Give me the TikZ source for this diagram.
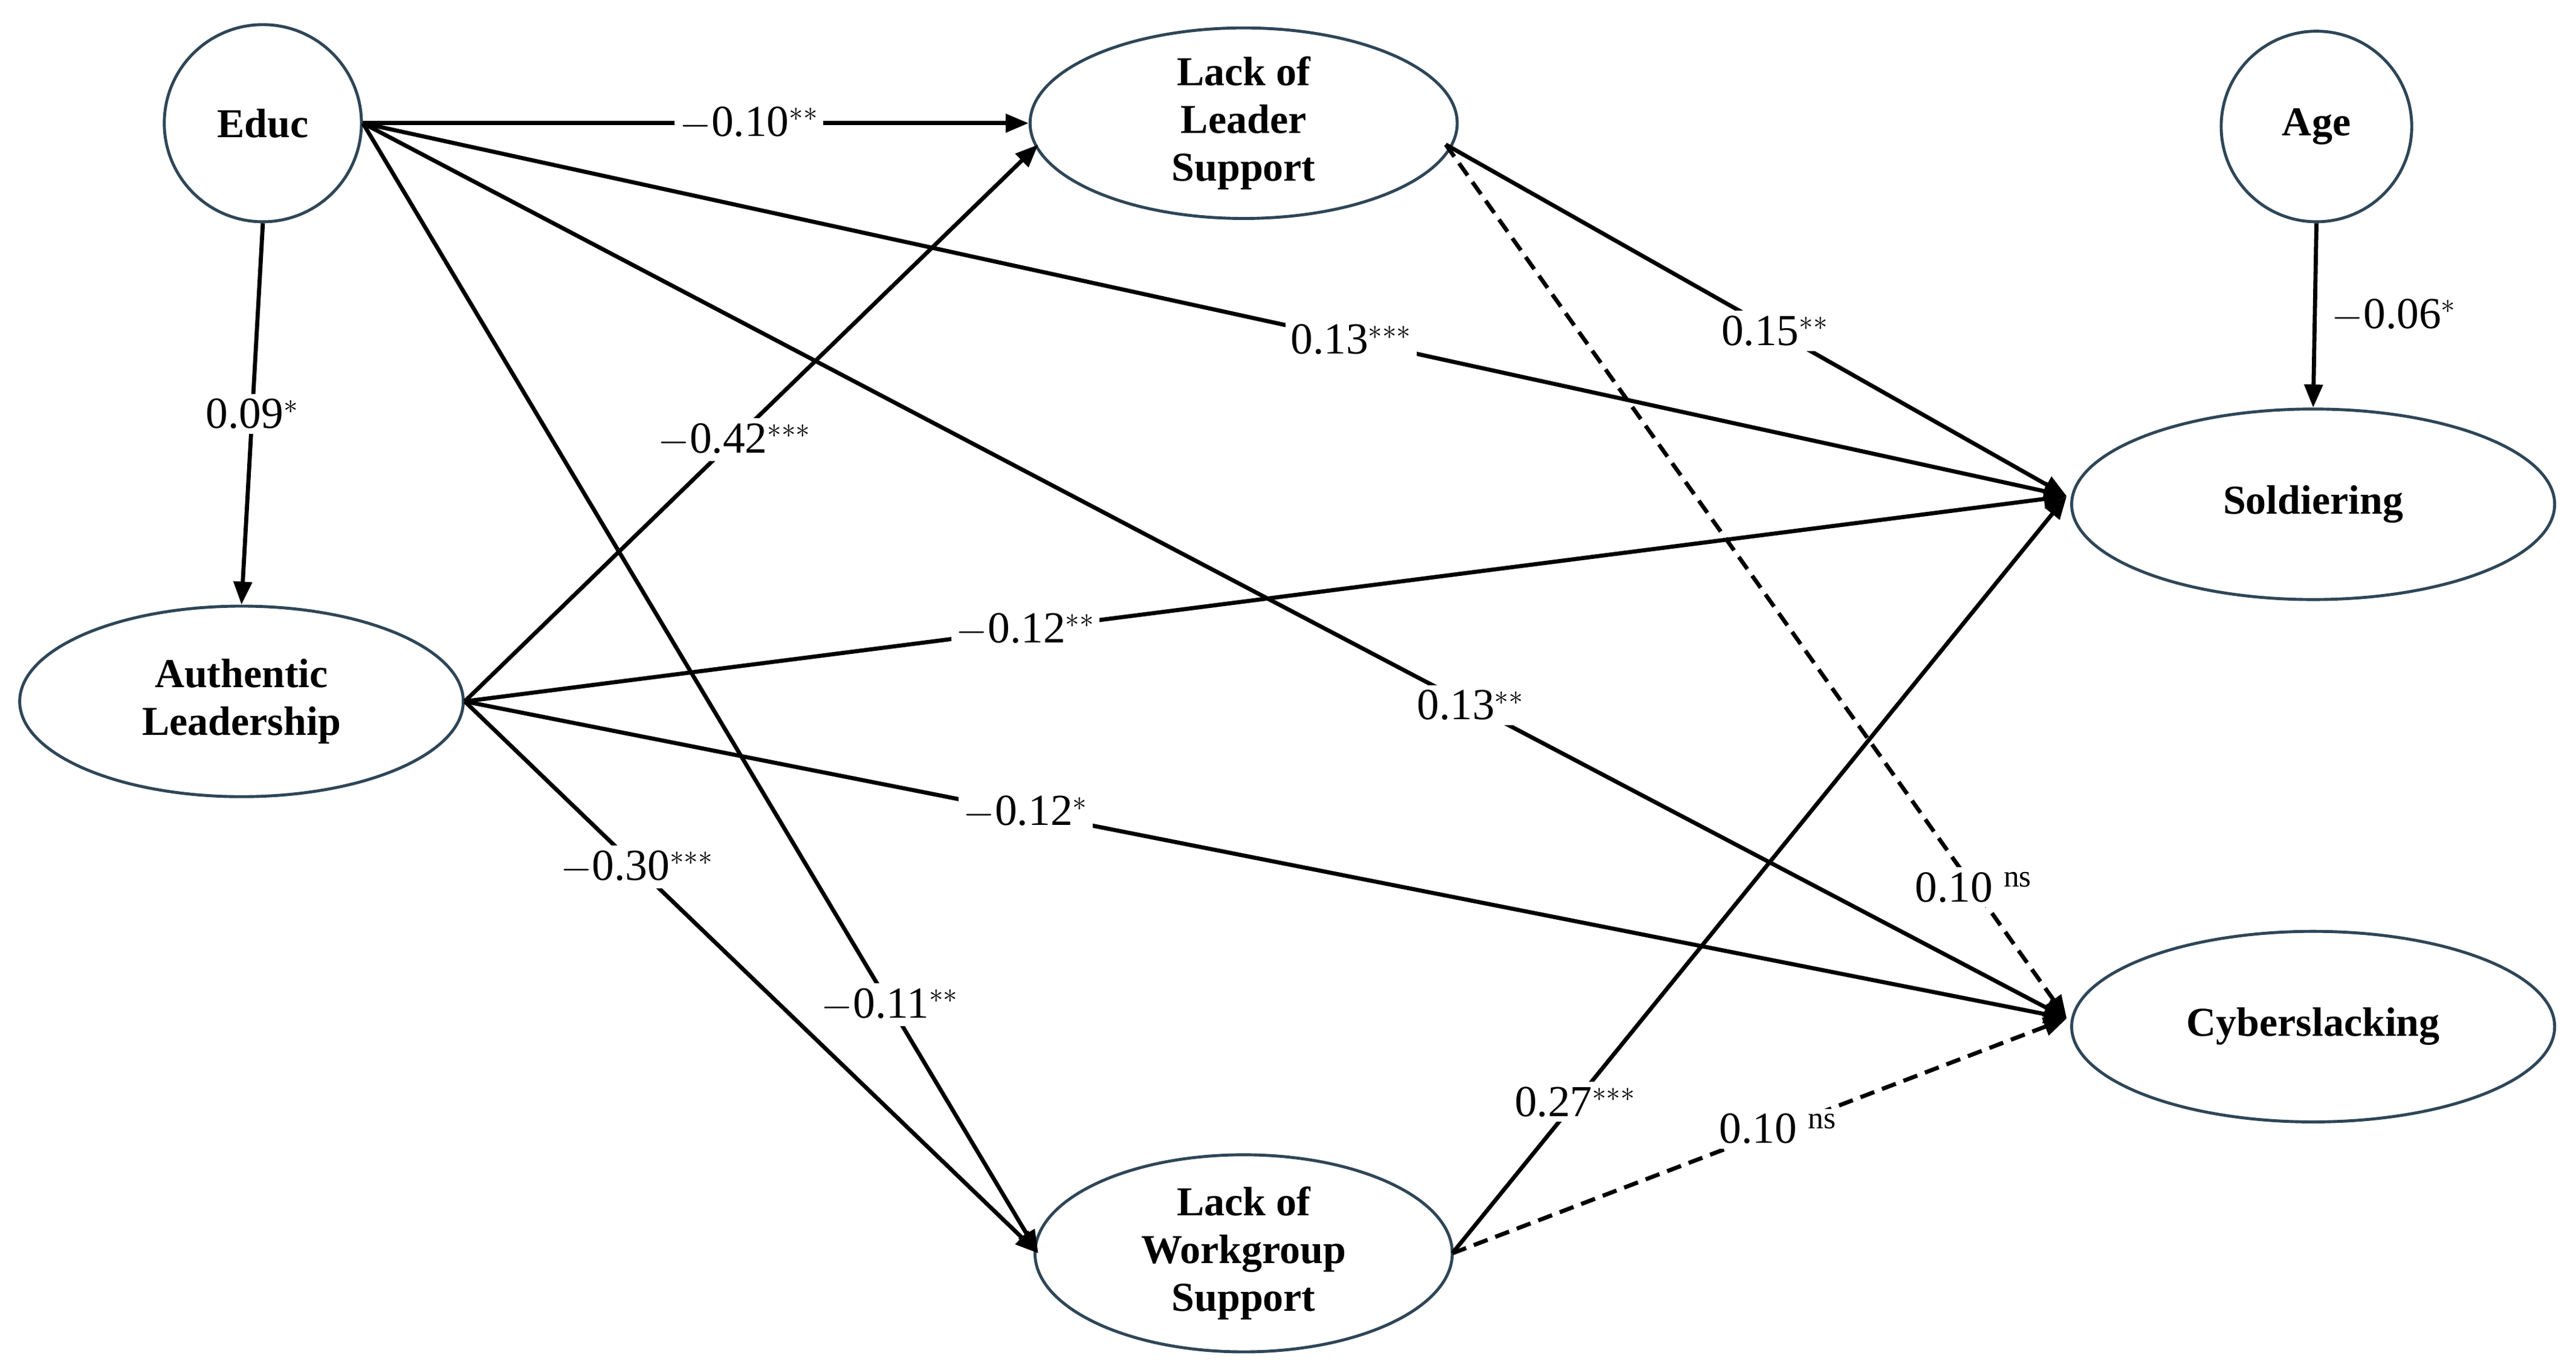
\documentclass[tikz,border=0pt]{standalone}
\usepackage{fontspec}
\setmainfont{Liberation Serif}
\usetikzlibrary{shapes.geometric,arrows.meta}
\definecolor{edgec}{HTML}{2E4657}
\begin{document}
\begin{tikzpicture}[x=1pt,y=-1pt,
  var/.style={draw=edgec,line width=1.8pt,ellipse,minimum width=#1,font=\fontsize{25}{29}\selectfont\bfseries,align=center,inner sep=0pt},
  circ/.style={draw=edgec,line width=1.8pt,circle,minimum size=120pt,font=\fontsize{25}{29}\selectfont\bfseries,inner sep=0pt},
  path/.style={line width=2.5pt,-{Triangle[length=14pt,width=11pt]}},
  lab/.style={fill=white,inner sep=3pt,font=\fontsize{27}{30}\selectfont}]
\useasboundingbox (0,0) rectangle (1568,834);
\fill[white] (0,0) rectangle (1568,834);
\node[circ] (educ) at (160,75) {Educ};
\node[circ,minimum size=116pt] (age) at (1410,77) {Age};
\node[var=260pt,minimum height=116pt] (lls) at (757,75) {Lack of\\Leader\\Support};
\node[var=270pt,minimum height=116pt] (al) at (147,427) {Authentic\\Leadership};
\node[var=294pt,minimum height=116pt] (sol) at (1408,307) {Soldiering};
\node[var=294pt,minimum height=116pt] (cyb) at (1408,625) {Cyberslacking};
\node[var=254pt,minimum height=120pt] (lws) at (757,763) {Lack of\\Workgroup\\Support};
\coordinate (llsout) at (880,88);
\coordinate (llsin) at (632,88);
\coordinate (solin) at (1258,302);
\coordinate (cybin) at (1258,620);
\coordinate (lwsout) at (884,763);
\coordinate (lwsin) at (632,763);
\draw[path] (educ.east) -- node[lab,pos=0.58]{$-$0.10$^{**}$} (lls.west);
\draw[path] (educ.south) -- node[lab,pos=0.5]{0.09$^{*}$} (al.north);
\draw[path] (educ.east) -- node[lab,pos=0.58]{0.13$^{***}$} (solin);
\draw[path] (educ.east) -- node[lab,pos=0.65]{0.13$^{**}$} (cybin);
\draw[path] (educ.east) -- node[lab,pos=0.78]{$-$0.11$^{**}$} (lwsin);
\draw[path] (al.east) -- node[lab,pos=0.47]{$-$0.42$^{***}$} (llsin);
\draw[path] (al.east) -- node[lab,pos=0.35]{$-$0.12$^{**}$} (solin);
\draw[path] (al.east) -- node[lab,pos=0.35]{$-$0.12$^{*}$} (cybin);
\draw[path] (al.east) -- node[lab,pos=0.3]{$-$0.30$^{***}$} (lwsin);
\draw[path] (llsout) -- node[lab,pos=0.53]{0.15$^{**}$} (solin);
\draw[path,dashed,dash pattern=on 9pt off 5pt] (llsout) -- node[lab,pos=0.85]{0.10 $^{\mathrm{ns}}$} (cybin);
\draw[path] (lwsout) -- node[lab,pos=0.2]{0.27$^{***}$} (solin);
\draw[path,dashed,dash pattern=on 9pt off 5pt] (lwsout) -- node[lab,pos=0.53]{0.10 $^{\mathrm{ns}}$} (cybin);
\draw[path] (age.south) -- node[lab,right=6pt,fill=none]{$-$0.06$^{*}$} (sol.north);
\end{tikzpicture}
\end{document}
